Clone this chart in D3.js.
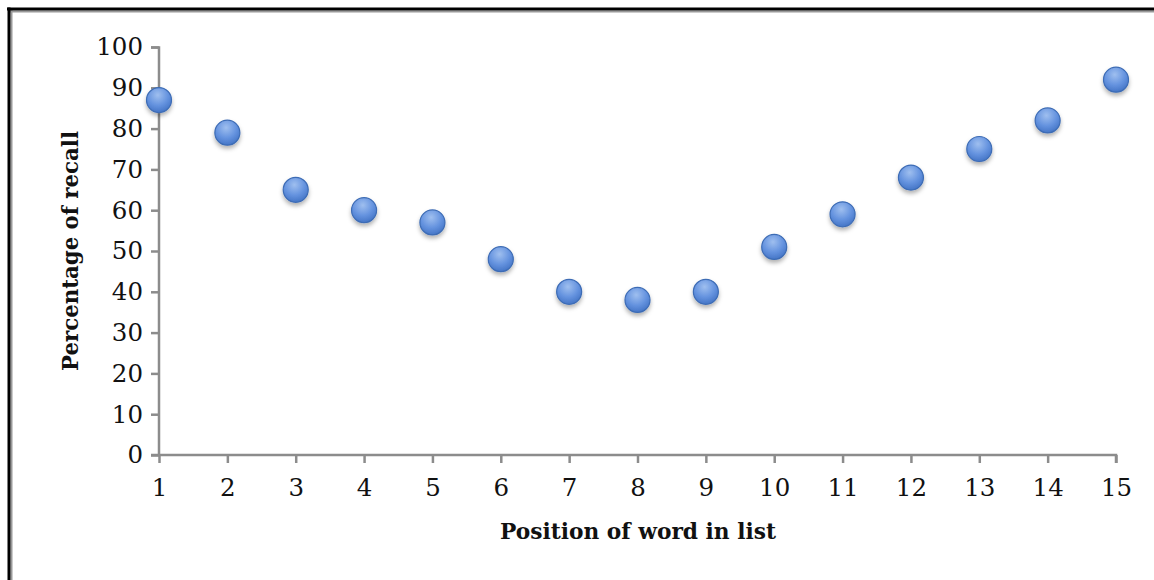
<!DOCTYPE html>
<html><head><meta charset="utf-8">
<script src="https://cdn.jsdelivr.net/npm/d3@7"></script>
<style>body{margin:0;background:#fff;}svg{display:block;}</style>
</head><body>
<svg id="c" width="1154" height="580"></svg>
<script>
const positions = [1,2,3,4,5,6,7,8,9,10,11,12,13,14,15];
const recall = [87,79,65,60,57,48,40,38,40,51,59,68,75,82,92];
const yTicks = [0,10,20,30,40,50,60,70,80,90,100];
const xTitle = "Position of word in list";
const yTitle = "Percentage of recall";

const svg = d3.select("#c");
const font = "'DejaVu Serif','Liberation Serif',serif";

// frame
svg.append("line").attr("x1",8).attr("x2",1154).attr("y1",11.5).attr("y2",11.5).attr("stroke","#999").attr("stroke-width",2);
svg.append("line").attr("x1",11.5).attr("x2",11.5).attr("y1",10).attr("y2",580).attr("stroke","#999").attr("stroke-width",2);
svg.append("line").attr("x1",7).attr("x2",1154).attr("y1",9).attr("y2",9).attr("stroke","#000").attr("stroke-width",3);
svg.append("line").attr("x1",9).attr("x2",9).attr("y1",7.5).attr("y2",580).attr("stroke","#000").attr("stroke-width",3);

const x = d3.scaleLinear().domain([1,15]).range([159,1116]);
const y = d3.scaleLinear().domain([0,100]).range([455,47]);

const defs = svg.append("defs");
const g = defs.append("radialGradient").attr("id","ball").attr("cx","45%").attr("cy","30%").attr("r","75%");
g.append("stop").attr("offset","0%").attr("stop-color","#9fbfef");
g.append("stop").attr("offset","55%").attr("stop-color","#6593df");
g.append("stop").attr("offset","100%").attr("stop-color","#3f70c2");
const f = defs.append("filter").attr("id","sh").attr("x","-50%").attr("y","-50%").attr("width","200%").attr("height","200%");
f.append("feDropShadow").attr("dx",0).attr("dy",3).attr("stdDeviation",2.2).attr("flood-color","#000").attr("flood-opacity",0.3);

// y axis
const yAxis = svg.append("g").attr("transform","translate(159,0)")
  .call(d3.axisLeft(y).tickValues(yTicks).tickSize(8).tickPadding(8));
// x axis
const xAxis = svg.append("g").attr("transform","translate(0,455)")
  .call(d3.axisBottom(x).tickValues(positions).tickSize(8).tickPadding(16).tickFormat(d3.format("d")));
[yAxis,xAxis].forEach(a=>{
  a.select(".domain").attr("stroke","#8c8c8c").attr("stroke-width",2.5);
  a.selectAll(".tick line").attr("stroke","#8c8c8c").attr("stroke-width",2.5);
  a.selectAll(".tick text").attr("fill","#111").attr("font-family",font).attr("font-size",24.5);
});
yAxis.select(".domain").attr("d","M-8,47.5H0V455");
xAxis.select(".domain").attr("d","M151,0H1116V8");

// titles
svg.append("text").attr("x",638).attr("y",539).attr("text-anchor","middle")
  .attr("font-family",font).attr("font-weight","bold").attr("font-size",22).attr("fill","#111")
  .attr("textLength",276).attr("lengthAdjust","spacingAndGlyphs").text(xTitle);
svg.append("text").attr("transform","translate(78,251) rotate(-90)").attr("text-anchor","middle")
  .attr("font-family",font).attr("font-weight","bold").attr("font-size",22).attr("fill","#111")
  .attr("textLength",240).attr("lengthAdjust","spacingAndGlyphs").text(yTitle);

// points
svg.append("g").selectAll("circle").data(positions).join("circle")
  .attr("cx",(d)=>x(d)).attr("cy",(d,i)=>y(recall[i])).attr("r",12.5)
  .attr("fill","url(#ball)").attr("stroke","#3d6cb5").attr("stroke-width",1.2)
  .attr("filter","url(#sh)");
</script>
</body></html>
